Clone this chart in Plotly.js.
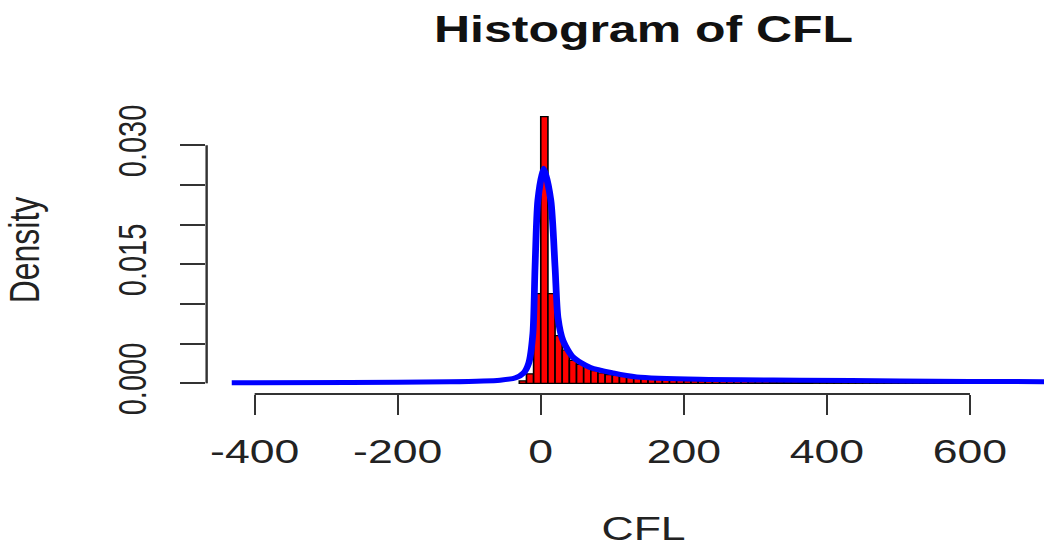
<!DOCTYPE html>
<html>
<head>
<meta charset="utf-8">
<script src="https://cdn.plot.ly/plotly-3.0.1.min.js"></script>
<style>
  html, body { margin: 0; padding: 0; background: #ffffff; overflow: hidden; width: 1044px; height: 547px; }
  #chart { width: 800px; height: 547px; transform: scaleX(1.3506); transform-origin: 0 0; }
</style>
</head>
<body>
<div id="chart"></div>
<script>
// ---- data ----
const binStart = -30;      // left edge of first histogram bin
const binWidth = 10;       // width of each bin
const densities = [
  0.0003, 0.0012, 0.0113, 0.0336, 0.0113, 0.0060, 0.0042, 0.0029, 0.0024, 0.0021,
  0.0016, 0.0013, 0.0011, 0.0010, 0.0009, 0.0008, 0.0007, 0.0006, 0.0006, 0.0005,
  0.0005, 0.0004, 0.0004,
  0.00035, 0.00033, 0.0003, 0.0003, 0.00028, 0.00027, 0.00025, 0.00025, 0.00023, 0.00022,
  0.0002, 0.0002, 0.00019, 0.00018, 0.00018, 0.00017, 0.00016, 0.00016, 0.00015, 0.00015,
  0.00014, 0.00014, 0.00013, 0.00013, 0.00012, 0.00012, 0.00012, 0.00011, 0.00011, 0.0001,
  0.0001, 0.0001, 0.00009, 0.00009, 0.00009, 0.00008, 0.00008, 0.00008, 0.00007, 0.00007,
  0.00007, 0.00007, 0.00006, 0.00006, 0.00006, 0.00006, 0.00005, 0.00005, 0.00005, 0.00005
];
const densityX = [-432, -267, -127, -57, -35, -24, -17, -11, -8, -4, 4, 14, 20, 24, 31, 45, 69, 101, 134, 222, 362, 502, 703, 760];
const densityY = [0.00006, 0.0001, 0.0002, 0.0004, 0.0007, 0.0013, 0.0025, 0.0063, 0.0146, 0.0231, 0.0271, 0.0231, 0.0146, 0.0083, 0.0054, 0.0033, 0.0020, 0.0013, 0.0008, 0.0005, 0.0004, 0.0003, 0.0002, 0.0002];
const xTickVals = [-400, -200, 0, 200, 400, 600];
const xTickText = ['-400', '-200', '0', '200', '400', '600'];
const yTickVals = [0, 0.005, 0.010, 0.015, 0.020, 0.025, 0.030];
const yTickText = ['0.000', '', '', '0.015', '', '', '0.030'];

// ---- build ----
const barX = densities.map((d, i) => binStart + binWidth * (i + 0.5));
const font = 'Liberation Sans, Arial, Helvetica, sans-serif';
const ink = '#222222';
const yMax = Math.max(...densities);

const traces = [
  {
    type: 'bar', x: barX, y: densities, width: binWidth,
    marker: { color: '#ff0000', line: { color: '#000000', width: 1.2 } },
    hoverinfo: 'x+y'
  },
  {
    type: 'scatter', mode: 'lines', x: densityX, y: densityY,
    line: { color: '#0000ff', width: 5, shape: 'spline', smoothing: 0.7 },
    cliponaxis: true
  }
];

const layout = {
  width: 800, height: 547,
  margin: { l: 153.26, r: 0, t: 106, b: 153.4, pad: 0 },
  paper_bgcolor: '#ffffff', plot_bgcolor: '#ffffff',
  showlegend: false,
  bargap: 0,
  font: { family: font, color: ink },
  title: {
    text: 'Histogram of CFL',
    font: { family: font, size: 37, weight: 700, color: '#111111' },
    x: 0.5, xref: 'paper', xanchor: 'center',
    y: 1 - 29 / 547, yref: 'container', yanchor: 'middle'
  },
  xaxis: {
    range: [-467.1, 754.5],
    tickmode: 'array', tickvals: xTickVals, ticktext: xTickText,
    ticks: 'outside', ticklen: 20, tickwidth: 1.6, tickcolor: '#333333',
    tickfont: { family: font, size: 33, color: ink },
    ticklabelstandoff: 8,
    showgrid: false, zeroline: false, showline: false,
    title: { text: 'CFL', font: { family: font, size: 33, color: ink }, standoff: 50 }
  },
  yaxis: {
    range: [-0.04 * yMax, 1.04 * yMax],
    tickmode: 'array', tickvals: yTickVals, ticktext: yTickText,
    ticks: 'outside', ticklen: 18.5, tickwidth: 1.8, tickcolor: '#333333',
    tickangle: -90,
    tickfont: { family: font, size: 29, color: ink },
    ticklabelstandoff: 14,
    showgrid: false, zeroline: false, showline: false,
    title: { text: 'Density', font: { family: font, size: 32, color: ink }, standoff: 49 }
  },
  shapes: [
    { type: 'line', xref: 'x', yref: 'paper', x0: xTickVals[0], x1: xTickVals[xTickVals.length - 1], y0: 0, y1: 0,
      line: { color: '#333333', width: 1.8 } },
    { type: 'line', xref: 'paper', yref: 'y', x0: 0, x1: 0, y0: yTickVals[0], y1: yTickVals[yTickVals.length - 1],
      line: { color: '#333333', width: 1.8 } }
  ]
};

Plotly.newPlot('chart', traces, layout, { staticPlot: true, displayModeBar: false, responsive: false });
</script>
</body>
</html>
